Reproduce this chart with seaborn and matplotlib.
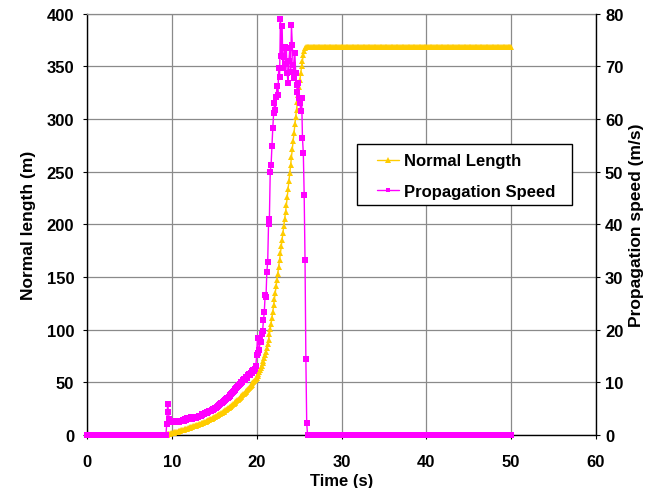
import numpy as np
import pandas as pd
import matplotlib
matplotlib.use("Agg")
import matplotlib.pyplot as plt
import seaborn as sns
from matplotlib.patches import Rectangle

# Sampling grid of the simulation output
time_step = 0.1
time_end = 50.0
front_start = 9.4  # first sample of the propagation phase

# Propagation speed (m/s), one value per 0.1 s from 9.4 s to 26.0 s
speed_front = [
    2.1, 5.9, 4.3, 3.0, 2.6, 2.4,
    2.5, 2.4, 2.6, 2.4, 2.5, 2.6, 2.4, 2.5, 2.6, 2.5,
    2.6, 2.7, 2.6, 2.8, 2.7, 2.9, 3.1, 2.8, 3.2, 3.3,
    3.0, 3.3, 3.2, 3.4, 3.1, 3.3, 3.2, 3.4, 3.3, 3.4,
    3.5, 3.5, 3.6, 3.6, 3.7, 3.8, 3.9, 3.9, 4.0, 4.1,
    4.1, 4.2, 4.3, 4.4, 4.5, 4.5, 4.6, 4.7, 4.8, 4.9,
    5.0, 5.1, 5.2, 5.3, 5.5, 5.6, 5.7, 5.8, 6.0, 6.1,
    6.2, 6.4, 6.5, 6.7, 6.8, 7.0, 7.1, 7.3, 7.5, 7.6,
    7.8, 8.0, 8.2, 8.4, 8.5, 8.7, 8.9, 9.1, 9.3, 9.5,
    9.7, 9.9, 10.1, 10.0, 10.4, 10.6, 10.4, 10.8, 11.1, 10.9,
    11.4, 11.6, 11.3, 11.8, 12.1, 11.7, 12.4, 12.2, 12.6, 13.1,
    15.2, 18.5, 15.6, 16.1, 18.0, 17.7, 19.2, 19.8, 21.8, 23.4,
    26.6, 26.2, 31.0, 32.9, 40.1, 41.1, 50.0, 51.3, 54.8, 58.3,
    61.1, 63.0, 61.8, 64.1, 66.3, 64.5, 69.6, 67.9, 78.9, 72.0,
    77.6, 69.6, 71.8, 73.6, 70.5, 73.4, 68.7, 66.8, 71.0, 73.4,
    69.0, 77.9, 74.1, 70.2, 67.8, 72.5, 68.8, 66.5, 65.2, 66.9,
    64.0, 63.0, 61.5, 64.0, 56.4, 53.5, 45.6, 33.3, 14.5, 2.2,
    0.0,
]

# Normal length (m), same samples as speed_front
length_front = [
    0.2, 0.6, 0.9, 1.2, 1.4, 1.6,
    1.8, 2.0, 2.2, 2.5, 2.7, 2.9, 3.1, 3.3, 3.6, 3.8,
    4.0, 4.3, 4.5, 4.8, 5.0, 5.3, 5.6, 5.8, 6.1, 6.3,
    6.6, 6.9, 7.2, 7.5, 7.8, 8.1, 8.3, 8.6, 8.9, 9.2,
    9.5, 9.8, 10.2, 10.5, 10.8, 11.2, 11.5, 11.8, 12.2, 12.5,
    12.8, 13.2, 13.6, 14.0, 14.4, 14.8, 15.2, 15.6, 16.0, 16.4,
    16.8, 17.3, 17.8, 18.2, 18.7, 19.2, 19.7, 20.2, 20.6, 21.1,
    21.6, 22.2, 22.8, 23.4, 24.0, 24.6, 25.2, 25.8, 26.4, 27.0,
    27.6, 28.3, 29.1, 29.8, 30.6, 31.3, 32.0, 32.8, 33.5, 34.3,
    35.0, 35.9, 36.8, 37.6, 38.5, 39.4, 40.3, 41.2, 42.0, 42.9,
    43.8, 44.8, 45.8, 46.9, 47.9, 48.9, 49.9, 50.9, 52.0, 53.0,
    54.0, 55.8, 57.7, 59.6, 61.6, 63.7, 65.9, 68.2, 70.7, 73.3,
    76.0, 79.0, 82.2, 86.0, 90.5, 95.5, 100.5, 105.7, 111.2, 117.0,
    123.1, 129.1, 135.1, 141.1, 147.1, 153.1, 159.6, 166.1, 172.6, 179.1,
    185.6, 192.1, 198.6, 205.1, 211.6, 218.1, 225.6, 233.2, 240.8, 248.4,
    256.0, 263.8, 271.6, 279.4, 287.2, 295.0, 302.0, 309.0, 316.0, 323.0,
    330.0, 337.0, 344.0, 350.0, 355.5, 360.5, 365.0, 367.5, 368.0, 368.0,
    368.0,
]

length_before = 0.0    # m, before ignition
speed_before = 0.0     # m/s
length_final = 368.0   # m, after the front stops
speed_final = 0.0      # m/s

x_ticks = [0, 10, 20, 30, 40, 50, 60]
left_ticks = [0, 50, 100, 150, 200, 250, 300, 350, 400]
right_ticks = [0, 10, 20, 30, 40, 50, 60, 70, 80]

# ---- assemble the full time series -------------------------------------
n_total = int(round(time_end / time_step)) + 1
n_before = int(round(front_start / time_step))
n_after = n_total - n_before - len(speed_front)

time_s = np.round(np.arange(n_total) * time_step, 1)
speed = [speed_before] * n_before + speed_front + [speed_final] * n_after
length = [length_before] * n_before + length_front + [length_final] * n_after

df = pd.DataFrame({"time": time_s, "length": length, "speed": speed})

# ---- style --------------------------------------------------------------
sns.set_theme(style="white")
plt.rcParams["font.family"] = ["Liberation Sans", "DejaVu Sans"]
plt.rcParams["font.weight"] = "bold"
plt.rcParams["axes.labelweight"] = "bold"

W, H = 661, 489
fig = plt.figure(figsize=(W / 100, H / 100), dpi=100)
ax_l, ax_r, ax_t, ax_b = 87, 596, 14.7, 436
ax = fig.add_axes([ax_l / W, 1 - ax_b / H, (ax_r - ax_l) / W, (ax_b - ax_t) / H])

gold = "#FFCC00"
magenta = "#FF00FF"

sns.lineplot(data=df, x="time", y="length", ax=ax, color=gold, linewidth=1.0,
             marker="^", markersize=5.0, markeredgewidth=0, markerfacecolor=gold,
             errorbar=None, legend=False, clip_on=False, zorder=3)
line_len = ax.lines[-1]

ax2 = ax.twinx()
sns.lineplot(data=df, x="time", y="speed", ax=ax2, color=magenta, linewidth=1.0,
             marker="s", markersize=4.3, markeredgewidth=0, markerfacecolor=magenta,
             errorbar=None, legend=False, clip_on=False, zorder=3)
line_spd = ax2.lines[-1]

# ---- axes ----------------------------------------------------------------
ax.set_xlim(0, 60)
ax.set_ylim(0, 400)
ax2.set_ylim(0, 80)
ax.set_xticks(x_ticks)
ax.set_yticks(left_ticks)
ax2.set_yticks(right_ticks)

ax.set_axisbelow(True)
ax.grid(True, color="#8a8a8a", linewidth=0.9)
ax2.grid(False)

for s in ["left", "bottom"]:
    ax.spines[s].set_color("black")
    ax.spines[s].set_linewidth(1.0)
ax.spines["top"].set_color("#8a8a8a")
ax.spines["top"].set_linewidth(0.9)
ax.spines["right"].set_visible(False)
for s in ["left", "bottom", "top"]:
    ax2.spines[s].set_visible(False)
ax2.spines["right"].set_color("black")
ax2.spines["right"].set_linewidth(1.0)

ax.tick_params(axis="x", bottom=True, direction="out", length=3, width=0.8,
               color="black", pad=10.4, labelsize=12, labelcolor="black")
ax.tick_params(axis="y", left=True, direction="out", length=3, width=0.8,
               color="black", pad=6.2, labelsize=12, labelcolor="black")
ax2.tick_params(axis="y", right=True, direction="out", length=3, width=0.8,
                color="black", pad=3.5, labelsize=12, labelcolor="black")

ax.set_xlabel("Time (s)", fontsize=12, fontweight="bold", color="black")
ax.set_ylabel("Normal length (m)", fontsize=12.5, fontweight="bold", color="black")
ax2.set_ylabel("Propagation speed (m/s)", fontsize=12.5, fontweight="bold", color="black")
ax.xaxis.set_label_coords(0.5, -(474 - ax_b) / (ax_b - ax_t))
ax.yaxis.set_label_coords((36 - ax_l) / (ax_r - ax_l), 0.5)
ax2.yaxis.set_label_coords((629 - ax_l) / (ax_r - ax_l), 0.5)

# ---- legend with a framed box ----------------------------------------------
box = Rectangle((357 / W, 1 - 206 / H), 215 / W, 61 / H, transform=fig.transFigure,
                facecolor="white", edgecolor="black", linewidth=1.0, zorder=4)
fig.patches.append(box)
leg = fig.legend([line_len, line_spd], ["Normal Length", "Propagation Speed"],
                 loc="upper left", bbox_to_anchor=(376.7 / W, 1 - 154.5 / H),
                 bbox_transform=fig.transFigure, frameon=False, borderpad=0,
                 borderaxespad=0, handlelength=1.35, handletextpad=0.3,
                 labelspacing=0.93, fontsize=12, numpoints=1, markerscale=0.8)
leg.set_zorder(5)
for t in leg.get_texts():
    t.set_fontweight("bold")
    t.set_color("black")

fig.savefig("out.png", dpi=100)
